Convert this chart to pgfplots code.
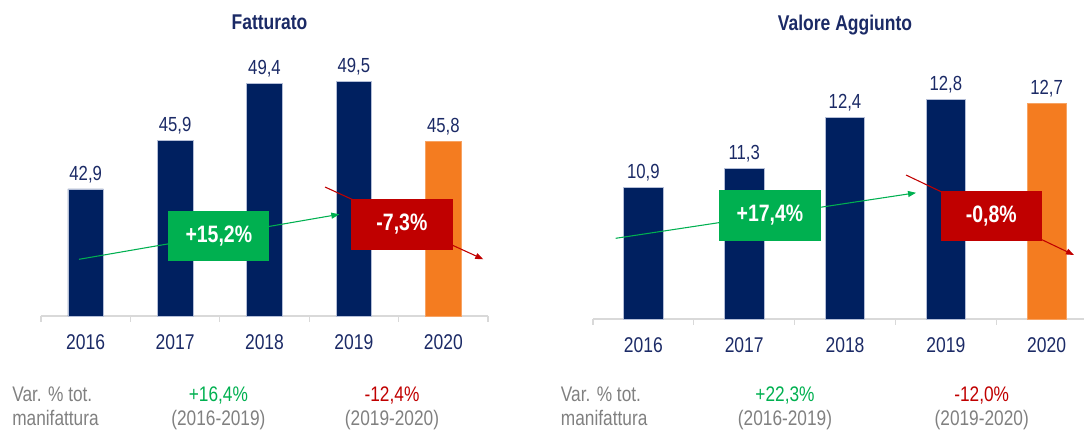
\documentclass[border=0pt]{standalone}
\usepackage{fontspec}
\IfFontExistsTF{Liberation Sans Narrow}{\setmainfont{Liberation Sans Narrow}}{\setmainfont{Liberation Sans}[FakeStretch=0.82]}
\usepackage{pgfplots}
\pgfplotsset{compat=1.18}
\usetikzlibrary{arrows.meta}
\definecolor{navy}{HTML}{002060}
\definecolor{txtnavy}{HTML}{1B2A66}
\definecolor{orng}{HTML}{F47C20}
\definecolor{grn}{HTML}{00B050}
\definecolor{rd}{HTML}{C00000}
\definecolor{gtxt}{HTML}{808080}
\definecolor{axgray}{HTML}{D9D9D9}
\definecolor{barline}{HTML}{B4BED7}
\newcommand\pxy[2]{({(#1)*0.75pt},{(430-(#2))*0.75pt})}
\newcommand\fval{\fontsize{15.3pt}{18pt}\selectfont}
\newcommand\ftitle{\fontsize{16pt}{19pt}\selectfont}
\newcommand\fyear{\fontsize{16pt}{19pt}\selectfont}
\newcommand\fboxtxt{\fontsize{17.8pt}{21pt}\selectfont}
\newcommand\fbot{\fontsize{15.8pt}{18pt}\selectfont}
\pgfplotsset{panel/.style={
  scale only axis, clip=false,
  axis x line*=bottom, axis y line=none,
  x axis line style={draw=axgray, line width=0.9pt},
  ybar, bar shift=0pt,
  xmin=-0.5,
  xtick={0,1,2,3,4}, xticklabels={2016,2017,2018,2019,2020},
  major tick length=0pt, xtick style={draw=none},
  xticklabel style={anchor=base, inner sep=0pt, yshift=-24.75pt, font=\fyear, text=txtnavy},
  nodes near coords,
  nodes near coords style={anchor=base, inner sep=0pt, yshift=6.6pt, font=\fval, text=txtnavy},
  /pgf/number format/use comma,
  /pgf/number format/fixed,
  /pgf/number format/fixed zerofill,
  /pgf/number format/precision=1,
  /pgf/number format/assume math mode=true,
}}
\begin{document}
\begin{tikzpicture}
\useasboundingbox (0,0) rectangle (813pt,322.5pt);
% ---------- Fatturato ----------
\begin{axis}[panel, at={(30.75pt,85.5pt)}, anchor=south west,
  width=335.25pt, height=182pt, xmax=4.5, ymin=35.1, ymax=50, bar width=26.6pt]
\addplot[fill=navy, draw=barline, line width=0.4pt] coordinates {(0,42.9) (1,45.9) (2,49.4) (3,49.5)};
\addplot[fill=orng, draw=orng!70!white, line width=0.4pt] coordinates {(4,45.8)};
\pgfplotsinvokeforeach{-0.5,0.5,1.5,2.5,3.5,4.5}{\draw[axgray, line width=0.9pt] (axis cs:#1,35.1) -- ++(0pt,-4.5pt);}
\end{axis}
% ---------- Valore Aggiunto ----------
\begin{axis}[panel, at={(444.75pt,83.25pt)}, anchor=south west,
  width=368.25pt, height=182.3pt, xmax=4.371, ymin=8.05, ymax=13.3, bar width=29.6pt]
\addplot[fill=navy, draw=barline, line width=0.4pt] coordinates {(0,10.9) (1,11.3) (2,12.4) (3,12.8)};
\addplot[fill=orng, draw=orng!70!white, line width=0.4pt] coordinates {(4,12.7)};
\pgfplotsinvokeforeach{-0.5,0.5,1.5,2.5,3.5}{\draw[axgray, line width=0.9pt] (axis cs:#1,8.05) -- ++(0pt,-4.5pt);}
\end{axis}
% titles
\node[anchor=base, inner sep=0pt, font=\ftitle\bfseries, text=txtnavy] at \pxy{269.5}{29.5} {Fatturato};
\node[anchor=base, inner sep=0pt, font=\ftitle\bfseries, text=txtnavy] at \pxy{845}{30} {Valore Aggiunto};
% arrows
\draw[grn, line width=0.8pt, -{Triangle[length=6pt,width=4.5pt]}] \pxy{79}{259.3} -- \pxy{339.3}{214.3};
\draw[rd, line width=0.8pt, -{Triangle[length=6pt,width=4.5pt]}] \pxy{325}{187} -- \pxy{483.3}{259.3};
\draw[grn, line width=0.8pt, -{Triangle[length=6pt,width=4.5pt]}] \pxy{615.7}{238.3} -- \pxy{916}{192.8};
\draw[rd, line width=0.8pt, -{Triangle[length=6pt,width=4.5pt]}] \pxy{906}{175} -- \pxy{1074}{255};
% boxes
\fill[grn] \pxy{168.3}{211} rectangle \pxy{269.3}{261};
\node[text=white, font=\fboxtxt\bfseries, inner sep=0pt] at \pxy{218.8}{236} {+15,2\%};
\fill[rd] \pxy{351}{199} rectangle \pxy{452.7}{249.7};
\node[text=white, font=\fboxtxt\bfseries, inner sep=0pt] at \pxy{401.9}{224.4} {-7,3\%};
\fill[grn] \pxy{719}{190} rectangle \pxy{820.7}{241};
\node[text=white, font=\fboxtxt\bfseries, inner sep=0pt] at \pxy{769.9}{215.5} {+17,4\%};
\fill[rd] \pxy{940.7}{190.7} rectangle \pxy{1041.7}{240.7};
\node[text=white, font=\fboxtxt\bfseries, inner sep=0pt] at \pxy{991.2}{215.7} {-0,8\%};
% bottom notes
\foreach \xx in {12,560.7}{
  \node[anchor=base west, inner sep=0pt, font=\fbot, text=gtxt] at \pxy{\xx}{401.7} {Var. \% tot.};
  \node[anchor=base west, inner sep=0pt, font=\fbot, text=gtxt] at \pxy{\xx}{425} {manifattura};
}
\node[anchor=base, inner sep=0pt, font=\fbot, text=grn] at \pxy{218.4}{401.7} {+16,4\%};
\node[anchor=base, inner sep=0pt, font=\fbot, text=gtxt] at \pxy{218.4}{425} {(2016-2019)};
\node[anchor=base, inner sep=0pt, font=\fbot, text=rd] at \pxy{392}{401.7} {-12,4\%};
\node[anchor=base, inner sep=0pt, font=\fbot, text=gtxt] at \pxy{392}{425} {(2019-2020)};
\node[anchor=base, inner sep=0pt, font=\fbot, text=grn] at \pxy{785}{401.7} {+22,3\%};
\node[anchor=base, inner sep=0pt, font=\fbot, text=gtxt] at \pxy{785}{425} {(2016-2019)};
\node[anchor=base, inner sep=0pt, font=\fbot, text=rd] at \pxy{981.7}{401.7} {-12,0\%};
\node[anchor=base, inner sep=0pt, font=\fbot, text=gtxt] at \pxy{981.7}{425} {(2019-2020)};
\end{tikzpicture}
\end{document}
